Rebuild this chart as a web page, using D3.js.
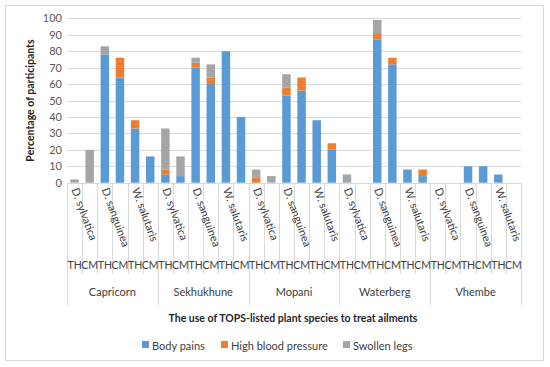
<!DOCTYPE html>
<html>
<head>
<meta charset="utf-8">
<script src="https://cdn.jsdelivr.net/npm/d3@7"></script>
<style>
  body { margin: 0; background: #fff; }
  svg { font-family: Lato, "Open Sans", sans-serif; }
</style>
</head>
<body>
<script>
// chart values
const districts = ["Capricorn", "Sekhukhune", "Mopani", "Waterberg", "Vhembe"];
const species = ["D. sylvatica", "D. sanguinea", "W. salutaris"];
const sources = ["TH", "CM"];
const ailments = ["Body pains", "High blood pressure", "Swollen legs"];
const colors = ["#5B9BD5", "#ED7D31", "#A5A5A5"];

const bodyPains = [0, 0, 78, 64, 33, 16,  5, 4, 70, 60, 80, 40,  0, 0, 53, 56, 38, 20,  0, 0, 87, 72, 8, 4,  0, 0, 10, 10, 5, 0];
const highBP    = [0, 0, 0, 12, 5, 0,     3, 0, 3, 4, 0, 0,      3, 0, 5, 8, 0, 4,      0, 0, 4, 4, 0, 4,   0, 0, 0, 0, 0, 0];
const swollen   = [2, 20, 5, 0, 0, 0,     25, 12, 3, 8, 0, 0,    5, 4, 8, 0, 0, 0,      5, 0, 8, 0, 0, 0,   0, 0, 0, 0, 0, 0];
const yTicks = [0, 10, 20, 30, 40, 50, 60, 70, 80, 90, 100];

const width = 550, height = 367;
const plotLeft = 67, plotRight = 521, plotTop = 18.3, plotBottom = 182.7;

// one row per bar
const rows = [];
districts.forEach((d, di) => species.forEach((s, si) => sources.forEach((src, ti) => {
  const i = rows.length;
  rows.push({ id: String(i), district: d, species: s, source: src, first: ti === 0,
    "Body pains": bodyPains[i], "High blood pressure": highBP[i], "Swollen legs": swollen[i] });
})));

const svg = d3.select("body").append("svg")
  .attr("width", width).attr("height", height);

svg.append("rect")
  .attr("x", 5.5).attr("y", 5.5).attr("width", 538).attr("height", 355)
  .attr("fill", "#fff").attr("stroke", "#d9d9d9");

const x = d3.scaleBand().domain(rows.map(r => r.id)).range([plotLeft, plotRight])
  .paddingInner(0.44).paddingOuter(0.22);
const step = x.step();
const y = d3.scaleLinear().domain([0, 100]).range([plotBottom, plotTop]);

// grid
svg.append("g").selectAll("line").data(yTicks).join("line")
  .attr("x1", plotLeft).attr("x2", plotRight)
  .attr("y1", d => Math.round(y(d)) + 0.5).attr("y2", d => Math.round(y(d)) + 0.5)
  .attr("stroke", "#d9d9d9");

const yAxis = svg.append("g").attr("transform", `translate(${plotLeft - 5},0)`)
  .call(d3.axisLeft(y).tickValues(yTicks).tickSize(0).tickPadding(0));
yAxis.select(".domain").remove();
yAxis.selectAll("text").attr("fill", "#595959").style("font-size", "11px")
  .style("font-family", "Lato, 'Open Sans', sans-serif");

// stacked bars
const stack = d3.stack().keys(ailments)(rows);
svg.append("g").selectAll("g").data(stack).join("g")
  .attr("fill", (d, i) => colors[i])
  .selectAll("rect").data(d => d).join("rect")
  .attr("x", d => x(d.data.id))
  .attr("width", x.bandwidth())
  .attr("y", d => y(d[1]))
  .attr("height", d => y(d[0]) - y(d[1]));

// category axis: separators
const sep = svg.append("g").attr("stroke", "#d9d9d9");
rows.forEach((r, i) => {
  const xs = Math.round(plotLeft + i * step) + 0.5;
  const isDistrict = i % 6 === 0;
  sep.append("line").attr("x1", xs).attr("x2", xs)
    .attr("y1", plotBottom).attr("y2", isDistrict ? 305 : 274);
});
sep.append("line").attr("x1", plotRight + 0.5).attr("x2", plotRight + 0.5)
  .attr("y1", plotBottom).attr("y2", 305);

// species labels (rotated)
svg.append("g").selectAll("text").data(rows.filter(r => r.first)).join("text")
  .attr("transform", d => `translate(${x(d.id) + x.bandwidth() / 2 + 1},188) rotate(70)`)
  .attr("dominant-baseline", "central")
  .attr("fill", "#404040").style("font-size", "11px")
  .text(d => d.species);

// TH / CM labels
svg.append("g").selectAll("text").data(rows).join("text")
  .attr("x", d => x(d.id) + x.bandwidth() / 2)
  .attr("y", 269)
  .attr("text-anchor", "middle")
  .attr("fill", "#404040").style("font-size", "10.5px")
  .text(d => d.source);

// district labels
svg.append("g").selectAll("text").data(districts).join("text")
  .attr("x", (d, i) => plotLeft + (i * 6 + 3) * step)
  .attr("y", 296)
  .attr("text-anchor", "middle")
  .attr("fill", "#404040").style("font-size", "11px")
  .text(d => d);

// axis titles
svg.append("text")
  .attr("transform", `translate(30,${(plotTop + plotBottom) / 2}) rotate(-90)`)
  .attr("text-anchor", "middle").attr("dominant-baseline", "central")
  .attr("font-weight", "bold").attr("fill", "#262626").style("font-size", "10.5px")
  .text("Percentage of participants");

svg.append("text")
  .attr("x", 293).attr("y", 322)
  .attr("text-anchor", "middle")
  .attr("font-weight", "bold").attr("fill", "#262626").style("font-size", "10.5px")
  .text("The use of TOPS-listed plant species to treat ailments");

// legend
const legendX = [142, 221, 343];
const legend = svg.append("g").selectAll("g").data(ailments).join("g")
  .attr("transform", (d, i) => `translate(${legendX[i]},345)`);
legend.append("rect").attr("x", 0).attr("y", -4).attr("width", 7).attr("height", 7)
  .attr("fill", (d, i) => colors[i]);
legend.append("text").attr("x", 10).attr("y", 0)
  .attr("dominant-baseline", "central")
  .attr("fill", "#404040").style("font-size", "11px")
  .text(d => d);
</script>
</body>
</html>
